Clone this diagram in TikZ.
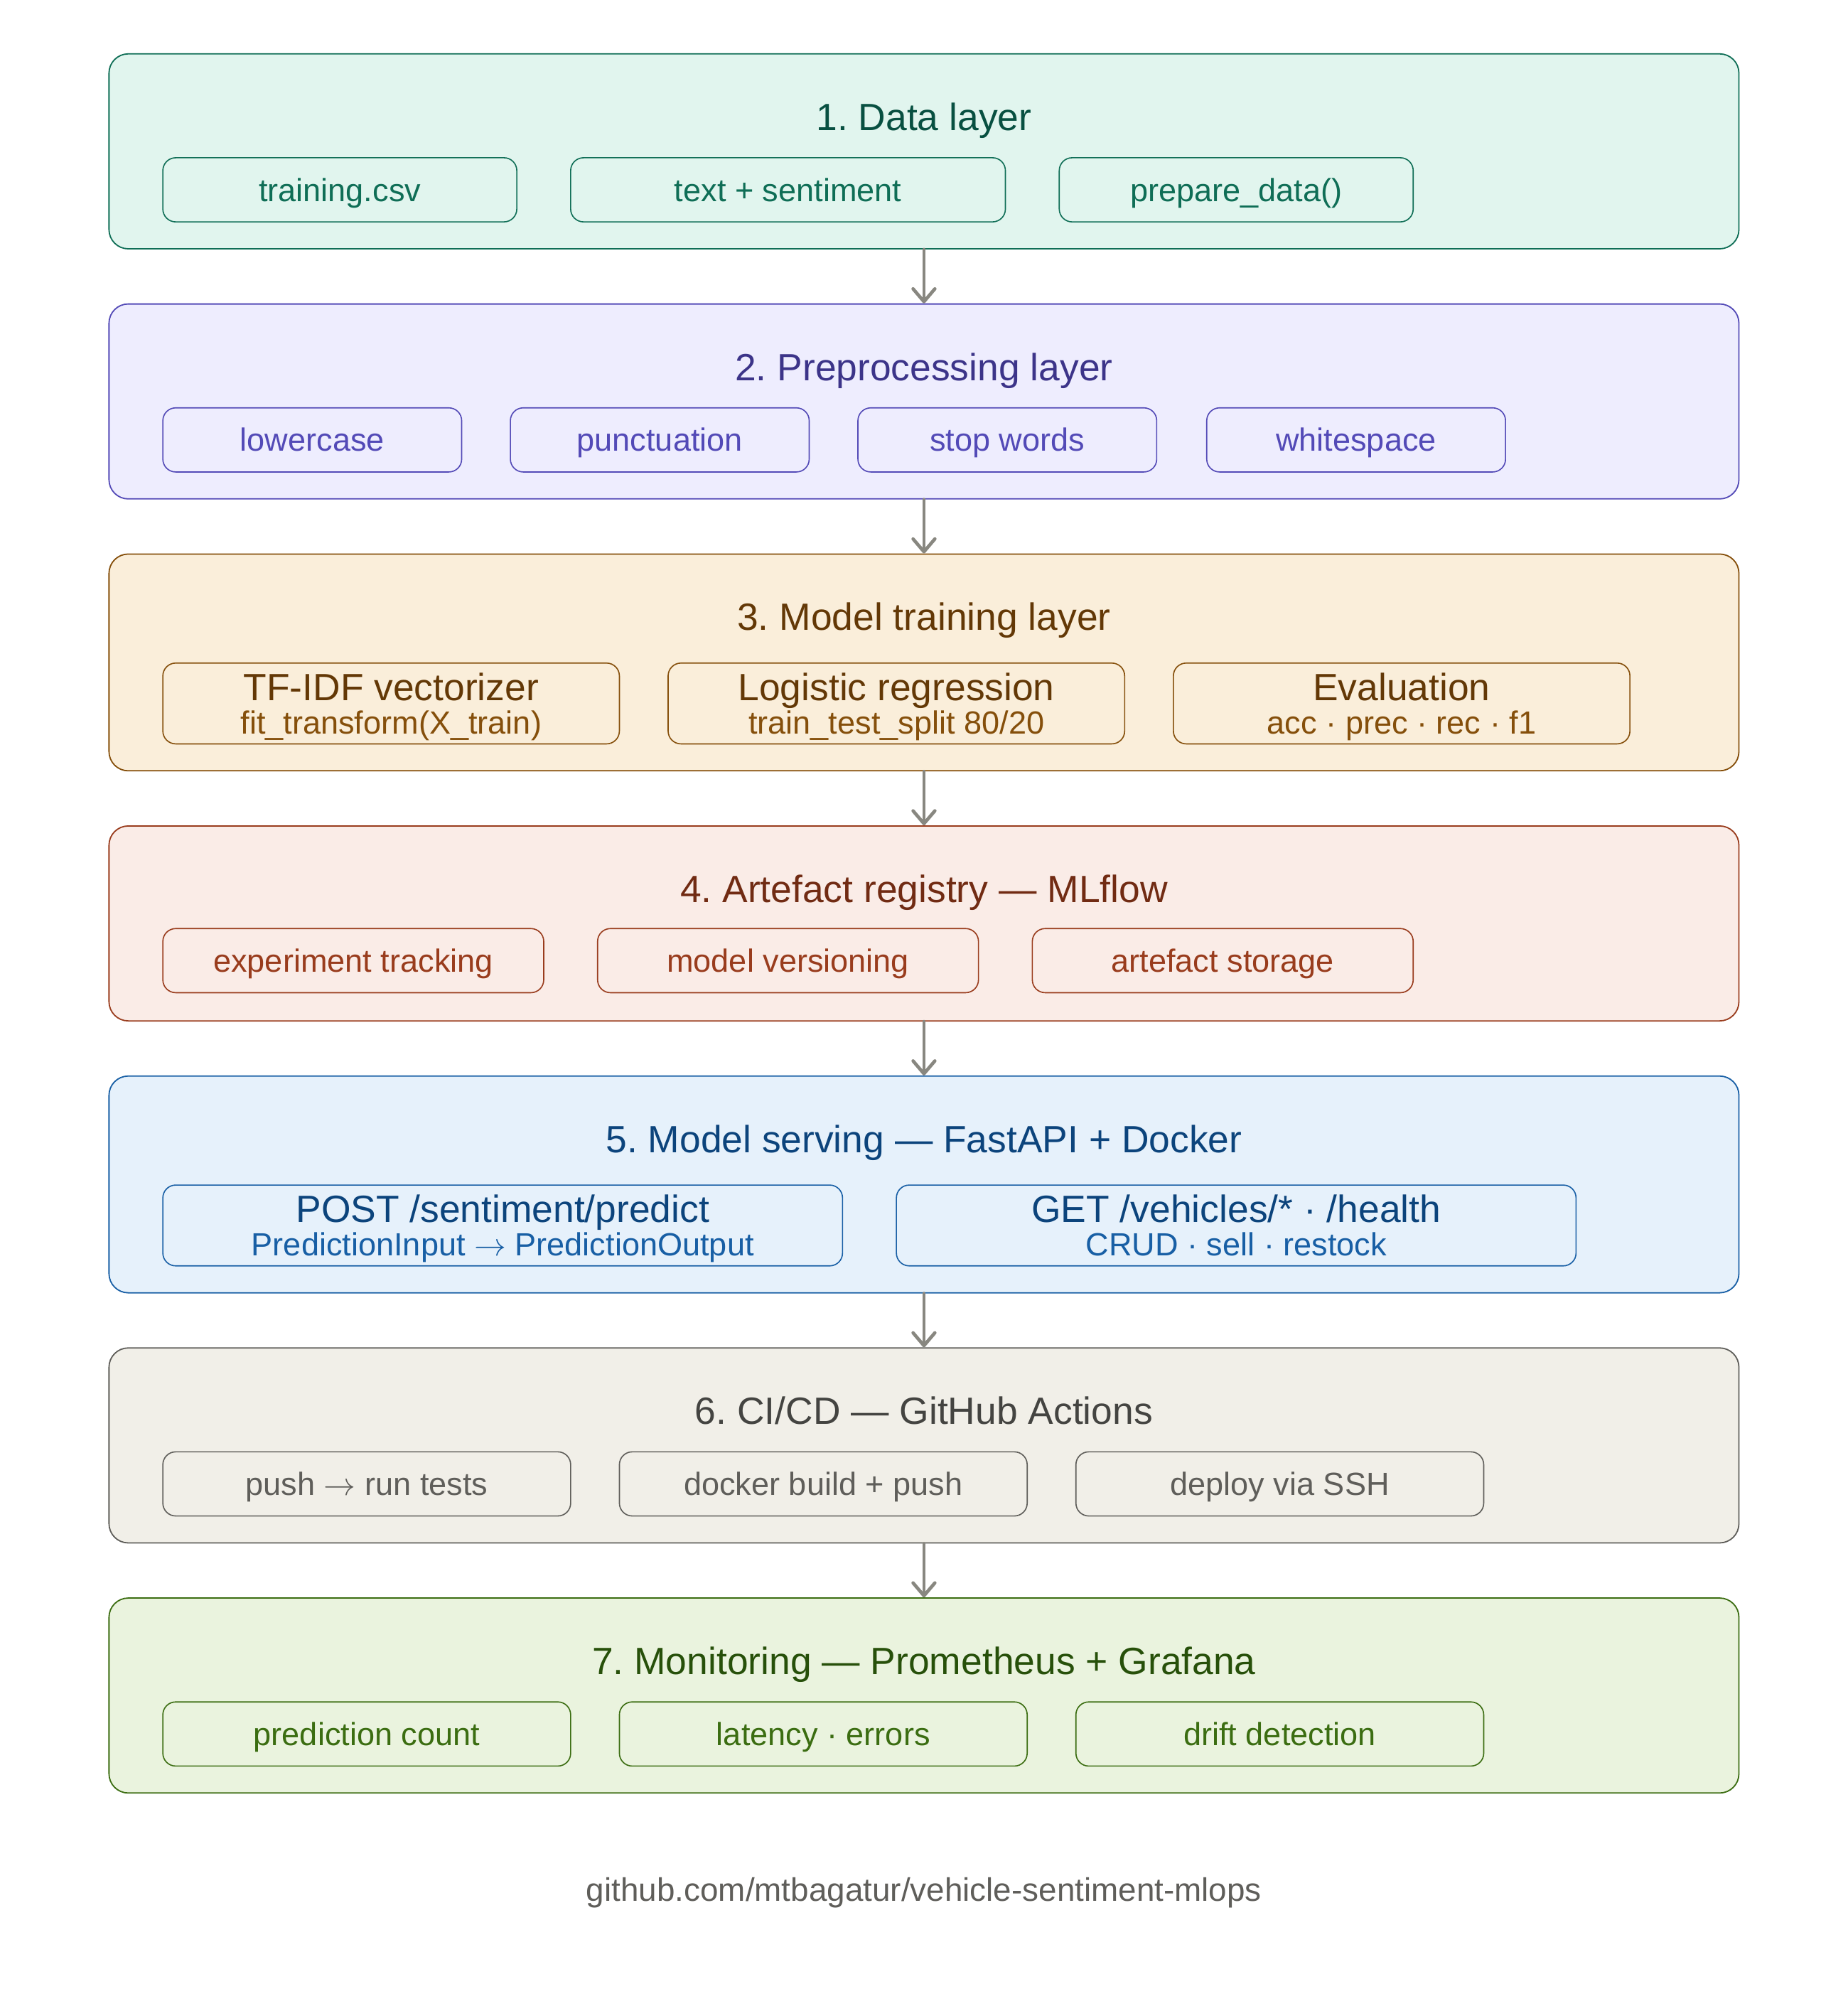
\documentclass[tikz,border=0pt]{standalone}
\usepackage{fontspec}
\setmainfont{Liberation Sans}
\usetikzlibrary{arrows.meta}
\frenchspacing
\definecolor{tealF}{HTML}{E1F5EE}\definecolor{tealS}{HTML}{0F6E56}\definecolor{tealT}{HTML}{085041}
\definecolor{purF}{HTML}{EEEDFE}\definecolor{purS}{HTML}{534AB7}\definecolor{purT}{HTML}{3C3489}
\definecolor{ambF}{HTML}{FAEEDA}\definecolor{ambS}{HTML}{854F0B}\definecolor{ambT}{HTML}{633806}
\definecolor{corF}{HTML}{FAECE7}\definecolor{corS}{HTML}{993C1D}\definecolor{corT}{HTML}{712B13}
\definecolor{bluF}{HTML}{E6F1FB}\definecolor{bluS}{HTML}{185FA5}\definecolor{bluT}{HTML}{0C447C}
\definecolor{gryF}{HTML}{F1EFE8}\definecolor{gryS}{HTML}{5F5E5A}\definecolor{gryT}{HTML}{444441}
\definecolor{grnF}{HTML}{EAF3DE}\definecolor{grnS}{HTML}{3B6D11}\definecolor{grnT}{HTML}{27500A}
\definecolor{arrowC}{HTML}{888780}
\newcommand{\ftitle}{\fontsize{29.6}{34}\selectfont}
\newcommand{\fsmall}{\fontsize{25}{30}\selectfont}
\newcommand{\rarr}{\ensuremath{\rightarrow}}
\tikzset{
  layerbox/.style={draw=#1S, fill=#1F, line width=1pt, rounded corners=15pt,
    minimum width=1271pt, inner sep=0pt},
  ibox/.style={draw=#1S, fill=#1F, line width=0.9pt, rounded corners=10pt,
    inner sep=0pt, text=#1S, font=\fsmall, text height=17.9pt, text depth=0pt},
  ltitle/.style={text=#1T, font=\ftitle, inner sep=0pt, text height=21.2pt, text depth=0pt},
  mainlbl/.style={text=#1T, font=\ftitle, inner sep=0pt, text height=21.2pt, text depth=0pt},
  sublbl/.style={text=#1S, font=\fsmall, inner sep=0pt, text height=17.9pt, text depth=0pt},
  flow/.style={draw=arrowC, line width=2.6pt, line cap=round,
    -{Straight Barb[length=10pt,width=17pt,round]}},
}
\begin{document}
\begin{tikzpicture}[x=1pt,y=-1pt]
\useasboundingbox (0,0) rectangle (1441,1568);
\fill[white] (0,0) rectangle (1441,1568);

% Layer 1
\node[layerbox=teal, minimum height=152pt] (L1) at (720.5,118) {};
\node[ltitle=teal] (T1) at (720.5,91) {1. Data layer};
\node[ibox=teal, minimum width=276pt, minimum height=50pt] (b11) at (265,148) {training.csv};
\node[ibox=teal, minimum width=339pt, minimum height=50pt] (b12) at (614.5,148) {text + sentiment};
\node[ibox=teal, minimum width=276pt, minimum height=50pt] (b13) at (964,148) {prepare\_data()};

% Layer 2
\node[layerbox=pur, minimum height=152pt] (L2) at (720.5,313) {};
\node[ltitle=pur] (T2) at (720.5,286) {2. Preprocessing layer};
\node[ibox=pur, minimum width=233pt, minimum height=50pt] (b21) at (243.5,343) {lowercase};
\node[ibox=pur, minimum width=233pt, minimum height=50pt] (b22) at (514.5,343) {punctuation};
\node[ibox=pur, minimum width=233pt, minimum height=50pt] (b23) at (785.5,343) {stop words};
\node[ibox=pur, minimum width=233pt, minimum height=50pt] (b24) at (1057.5,343) {whitespace};

% Layer 3
\node[layerbox=amb, minimum height=169pt] (L3) at (720.5,516.5) {};
\node[ltitle=amb] (T3) at (720.5,481) {3. Model training layer};
\node[ibox=amb, minimum width=356pt, minimum height=63pt] (b31) at (305,548.5) {};
\node[ibox=amb, minimum width=356pt, minimum height=63pt] (b32) at (699,548.5) {};
\node[ibox=amb, minimum width=356pt, minimum height=63pt] (b33) at (1093,548.5) {};
\node[mainlbl=amb] (m31) at (305,535.7) {TF-IDF vectorizer};
\node[sublbl=amb] (s31) at (305,563.1) {fit\_transform(X\_train)};
\node[mainlbl=amb] (m32) at (699,535.7) {Logistic regression};
\node[sublbl=amb] (s32) at (699,563.1) {train\_test\_split 80/20};
\node[mainlbl=amb] (m33) at (1093,535.7) {Evaluation};
\node[sublbl=amb] (s33) at (1093,563.1) {acc · prec · rec · f1};

% Layer 4
\node[layerbox=cor, minimum height=152pt] (L4) at (720.5,720) {};
\node[ltitle=cor] (T4) at (720.5,693) {4. Artefact registry — MLflow};
\node[ibox=cor, minimum width=297pt, minimum height=50pt] (b41) at (275.5,749) {experiment tracking};
\node[ibox=cor, minimum width=297pt, minimum height=50pt] (b42) at (614.5,749) {model versioning};
\node[ibox=cor, minimum width=297pt, minimum height=50pt] (b43) at (953.5,749) {artefact storage};

% Layer 5
\node[layerbox=blu, minimum height=169pt] (L5) at (720.5,923.5) {};
\node[ltitle=blu] (T5) at (720.5,888) {5. Model serving — FastAPI + Docker};
\node[ibox=blu, minimum width=530pt, minimum height=63pt] (b51) at (392,955.5) {};
\node[ibox=blu, minimum width=530pt, minimum height=63pt] (b52) at (964,955.5) {};
\node[mainlbl=blu] (m51) at (392,942.7) {POST /sentiment/predict};
\node[sublbl=blu] (s51) at (392,970.1) {PredictionInput \rarr{} PredictionOutput};
\node[mainlbl=blu] (m52) at (964,942.7) {GET /vehicles/* · /health};
\node[sublbl=blu] (s52) at (964,970.1) {CRUD · sell · restock};

% Layer 6
\node[layerbox=gry, minimum height=152pt] (L6) at (720.5,1127) {};
\node[ltitle=gry] (T6) at (720.5,1100) {6. CI/CD — GitHub Actions};
\node[ibox=gry, minimum width=318pt, minimum height=50pt] (b61) at (286,1157) {push \rarr{} run tests};
\node[ibox=gry, minimum width=318pt, minimum height=50pt] (b62) at (642,1157) {docker build + push};
\node[ibox=gry, minimum width=318pt, minimum height=50pt] (b63) at (998,1157) {deploy via SSH};

% Layer 7
\node[layerbox=grn, minimum height=152pt] (L7) at (720.5,1322) {};
\node[ltitle=grn] (T7) at (720.5,1295) {7. Monitoring — Prometheus + Grafana};
\node[ibox=grn, minimum width=318pt, minimum height=50pt] (b71) at (286,1352) {prediction count};
\node[ibox=grn, minimum width=318pt, minimum height=50pt] (b72) at (642,1352) {latency · errors};
\node[ibox=grn, minimum width=318pt, minimum height=50pt] (b73) at (998,1352) {drift detection};

% Footer
\node[text=gryS, font=\fontsize{25.4}{30}\selectfont, inner sep=0pt, text height=18.2pt, text depth=0pt] (foot) at (720.5,1473.5) {github.com/mtbagatur/vehicle-sentiment-mlops};

% Arrows
\draw[flow] (L1.south) -- (L2.north);
\draw[flow] (L2.south) -- (L3.north);
\draw[flow] (L3.south) -- (L4.north);
\draw[flow] (L4.south) -- (L5.north);
\draw[flow] (L5.south) -- (L6.north);
\draw[flow] (L6.south) -- (L7.north);
\end{tikzpicture}
\end{document}
